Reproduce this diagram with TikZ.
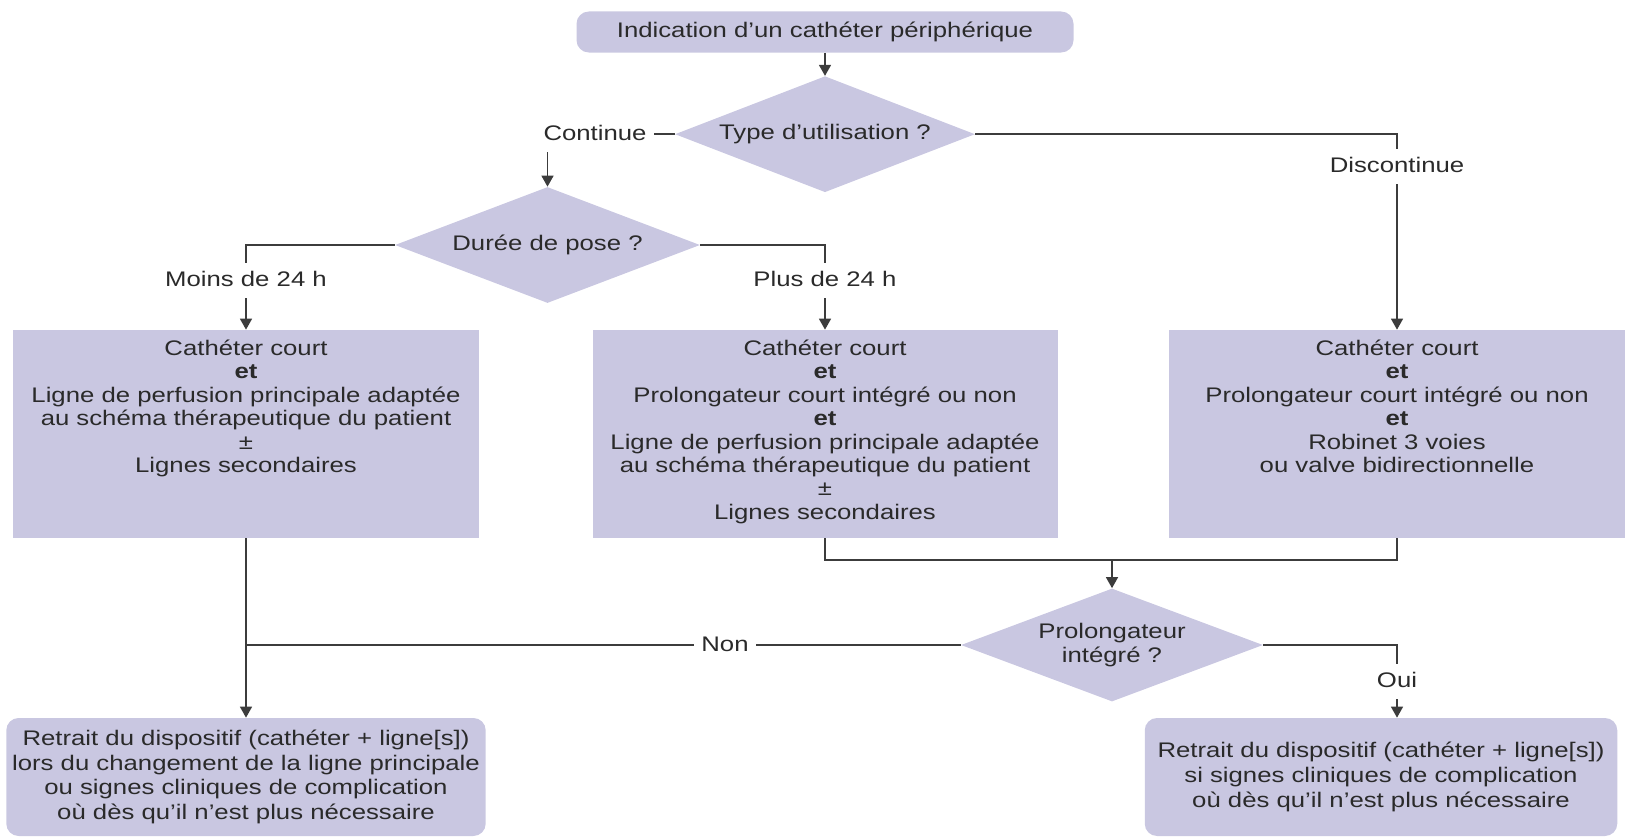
\documentclass[tikz,border=0pt]{standalone}
\usepackage{fontspec}
\setmainfont{Liberation Sans}[FakeStretch=1.22]
\usepackage{xcolor}
\usetikzlibrary{positioning,shapes.geometric,arrows.meta}
\definecolor{lilac}{HTML}{C9C7E1}
\definecolor{ink}{HTML}{2A2A2A}
\definecolor{stroke}{HTML}{3C3C3C}
\newcommand\toptext[3]{\parbox[c][#2][t]{#1}{\centering\vspace*{0.2cm}#3}}

\begin{document}
\begin{tikzpicture}[every node/.style={font=\fontsize{12}{13.3}\selectfont,text=ink},
    panel/.style={fill=lilac,inner sep=0pt},
    endbox/.style={fill=lilac,rounded corners=7pt,align=center,minimum width=9.45cm,minimum height=2.36cm,font=\fontsize{12}{14}\selectfont},
    ask/.style={diamond,fill=lilac,inner sep=0pt,shape aspect=2.6,minimum width=6cm,minimum height=2.32cm,align=center},
    tag/.style={fill=white,inner sep=0.15cm,text height=0.32cm,text depth=0.08cm},
    wire/.style={draw=stroke,line width=0.85pt},
    flow/.style={wire,-{Triangle[width=0.24cm,length=0.22cm]}}]
    \useasboundingbox (0,0) rectangle (32.5,-16.74);

    \node[fill=lilac,rounded corners=7pt,minimum width=9.94cm,minimum height=0.82cm] (start) at (16.5,-0.64) {Indication d’un cathéter périphérique};
    \node[ask,below=0.46cm of start] (usage) {Type d’utilisation ?};
    \node[ask,minimum width=6.1cm] (duree) at (10.95,-4.9) {Durée de pose ?};
    \node[panel] (short) at (4.92,-8.68) {\toptext{9.3cm}{4.16cm}{Cathéter court\\\textbf{et}\\Ligne de perfusion principale adaptée\\au schéma thérapeutique du patient\\±\\Lignes secondaires}};
    \node[panel] (long) at (16.5,-8.68) {\toptext{9.3cm}{4.16cm}{Cathéter court\\\textbf{et}\\Prolongateur court intégré ou non\\\textbf{et}\\Ligne de perfusion principale adaptée\\au schéma thérapeutique du patient\\±\\Lignes secondaires}};
    \node[panel] (intermit) at (27.94,-8.68) {\toptext{9.12cm}{4.16cm}{Cathéter court\\\textbf{et}\\Prolongateur court intégré ou non\\\textbf{et}\\Robinet 3 voies\\ou valve bidirectionnelle}};
    \node[ask,minimum width=6.04cm,minimum height=2.26cm] (integre) at (22.24,-12.9) {Prolongateur\\intégré ?};
    \node[endbox] (retraitA) at (4.92,-15.54) {Retrait du dispositif (cathéter + ligne[s])\\lors du changement de la ligne principale\\ou signes cliniques de complication\\où dès qu’il n’est plus nécessaire};
    \node[endbox] (retraitB) at (27.62,-15.54) {Retrait du dispositif (cathéter + ligne[s])\\si signes cliniques de complication\\où dès qu’il n’est plus nécessaire};

    % connectors
    \draw[flow] (start) -- (usage);
    \draw[flow] (usage.west) -| (duree.north);
    \draw[flow] (usage.east) -| (intermit.north);
    \draw[flow] (duree.west) -| (short.north);
    \draw[flow] (duree.east) -| (long.north);
    \coordinate (merge) at (22.24,-11.2);
    \draw[wire] (long.south) |- (merge) -| (intermit.south);
    \draw[flow] (merge) -- (integre.north);
    \draw[flow] (short.south) -- (retraitA.north);
    \draw[wire] (integre.west) -- (integre.west -| short.south);
    \draw[flow] (integre.east) -| (retraitB.north -| intermit.south);

    % answers
    \node[tag] (cont) at (11.9,-2.68) {Continue};
    \node[tag] (disc) at (27.94,-3.32) {Discontinue};
    \node[tag] (moins) at (4.92,-5.6) {Moins de 24 h};
    \node[tag] (plus) at (16.5,-5.6) {Plus de 24 h};
    \node[tag] (non) at (14.5,-12.9) {Non};
    \node[tag] (oui) at (27.94,-13.62) {Oui};
  \end{tikzpicture}
\end{document}
